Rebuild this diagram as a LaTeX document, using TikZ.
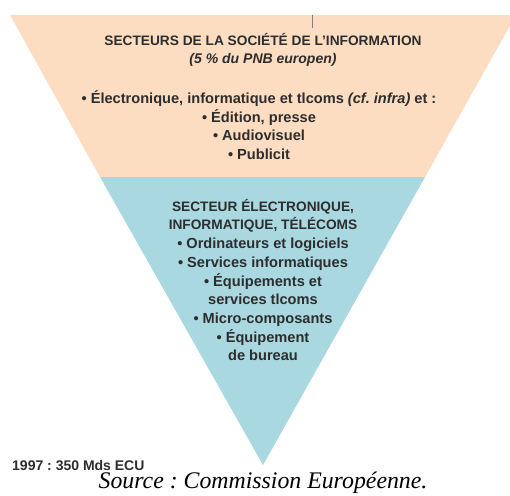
\documentclass[tikz,border=0pt]{standalone}
\usepackage{fontspec}
\setmainfont{Liberation Sans}
\newfontfamily\srcfont{Liberation Serif}
\frenchspacing
\definecolor{peche}{RGB}{252,221,193}
\definecolor{bleu}{RGB}{170,216,225}
\definecolor{encre}{RGB}{45,45,45}
\newcommand{\capsz}{\fontsize{13.7}{18.7}\selectfont}
\tikzset{
  txt/.style={align=center,text=encre,font=\bfseries\fontsize{14.6}{18.7}\selectfont,inner sep=0pt}
}
\begin{document}
\begin{tikzpicture}[x=1pt,y=-1pt]
  \useasboundingbox (0,0) rectangle (510,495);
  \clip (0,0) rectangle (510,495);
  \fill[peche] (10,15) -- (516,15) -- (425,177) -- (100,177) -- cycle;
  \fill[bleu] (100,177) -- (425,177) -- (263,465) -- cycle;
  \draw[gray,line width=0.6pt] (312,15) -- (312,28);
  \node[txt] (societe) at (263,50) {{\capsz SECTEURS DE LA SOCIÉTÉ DE L'INFORMATION}\\
    {\itshape\fontsize{14}{18.7}\selectfont (5 \% du PNB europen)}};
  \node[txt] (liste) at (259,125) {• Électronique, informatique et tlcoms \textit{(cf. infra)} et :\\
    • Édition, presse\\ • Audiovisuel\\ • Publicit};
  \node[txt] (electro) at (263,280) {{\capsz SECTEUR ÉLECTRONIQUE,}\\ {\capsz INFORMATIQUE, TÉLÉCOMS}\\
    • Ordinateurs et logiciels\\ • Services informatiques\\ • Équipements et\\
    services tlcoms\hspace*{18pt}\\ • Micro-composants\\ • Équipement\\ de bureau};
  \node[txt,anchor=west] (total) at (12,465) {\fontsize{14}{18.7}\selectfont 1997 : 350 Mds ECU};
  \node[font=\srcfont\itshape\fontsize{23.8}{26}\selectfont,inner sep=0pt] (source) at (263,483) {Source : Commission Européenne.};
\end{tikzpicture}
\end{document}
